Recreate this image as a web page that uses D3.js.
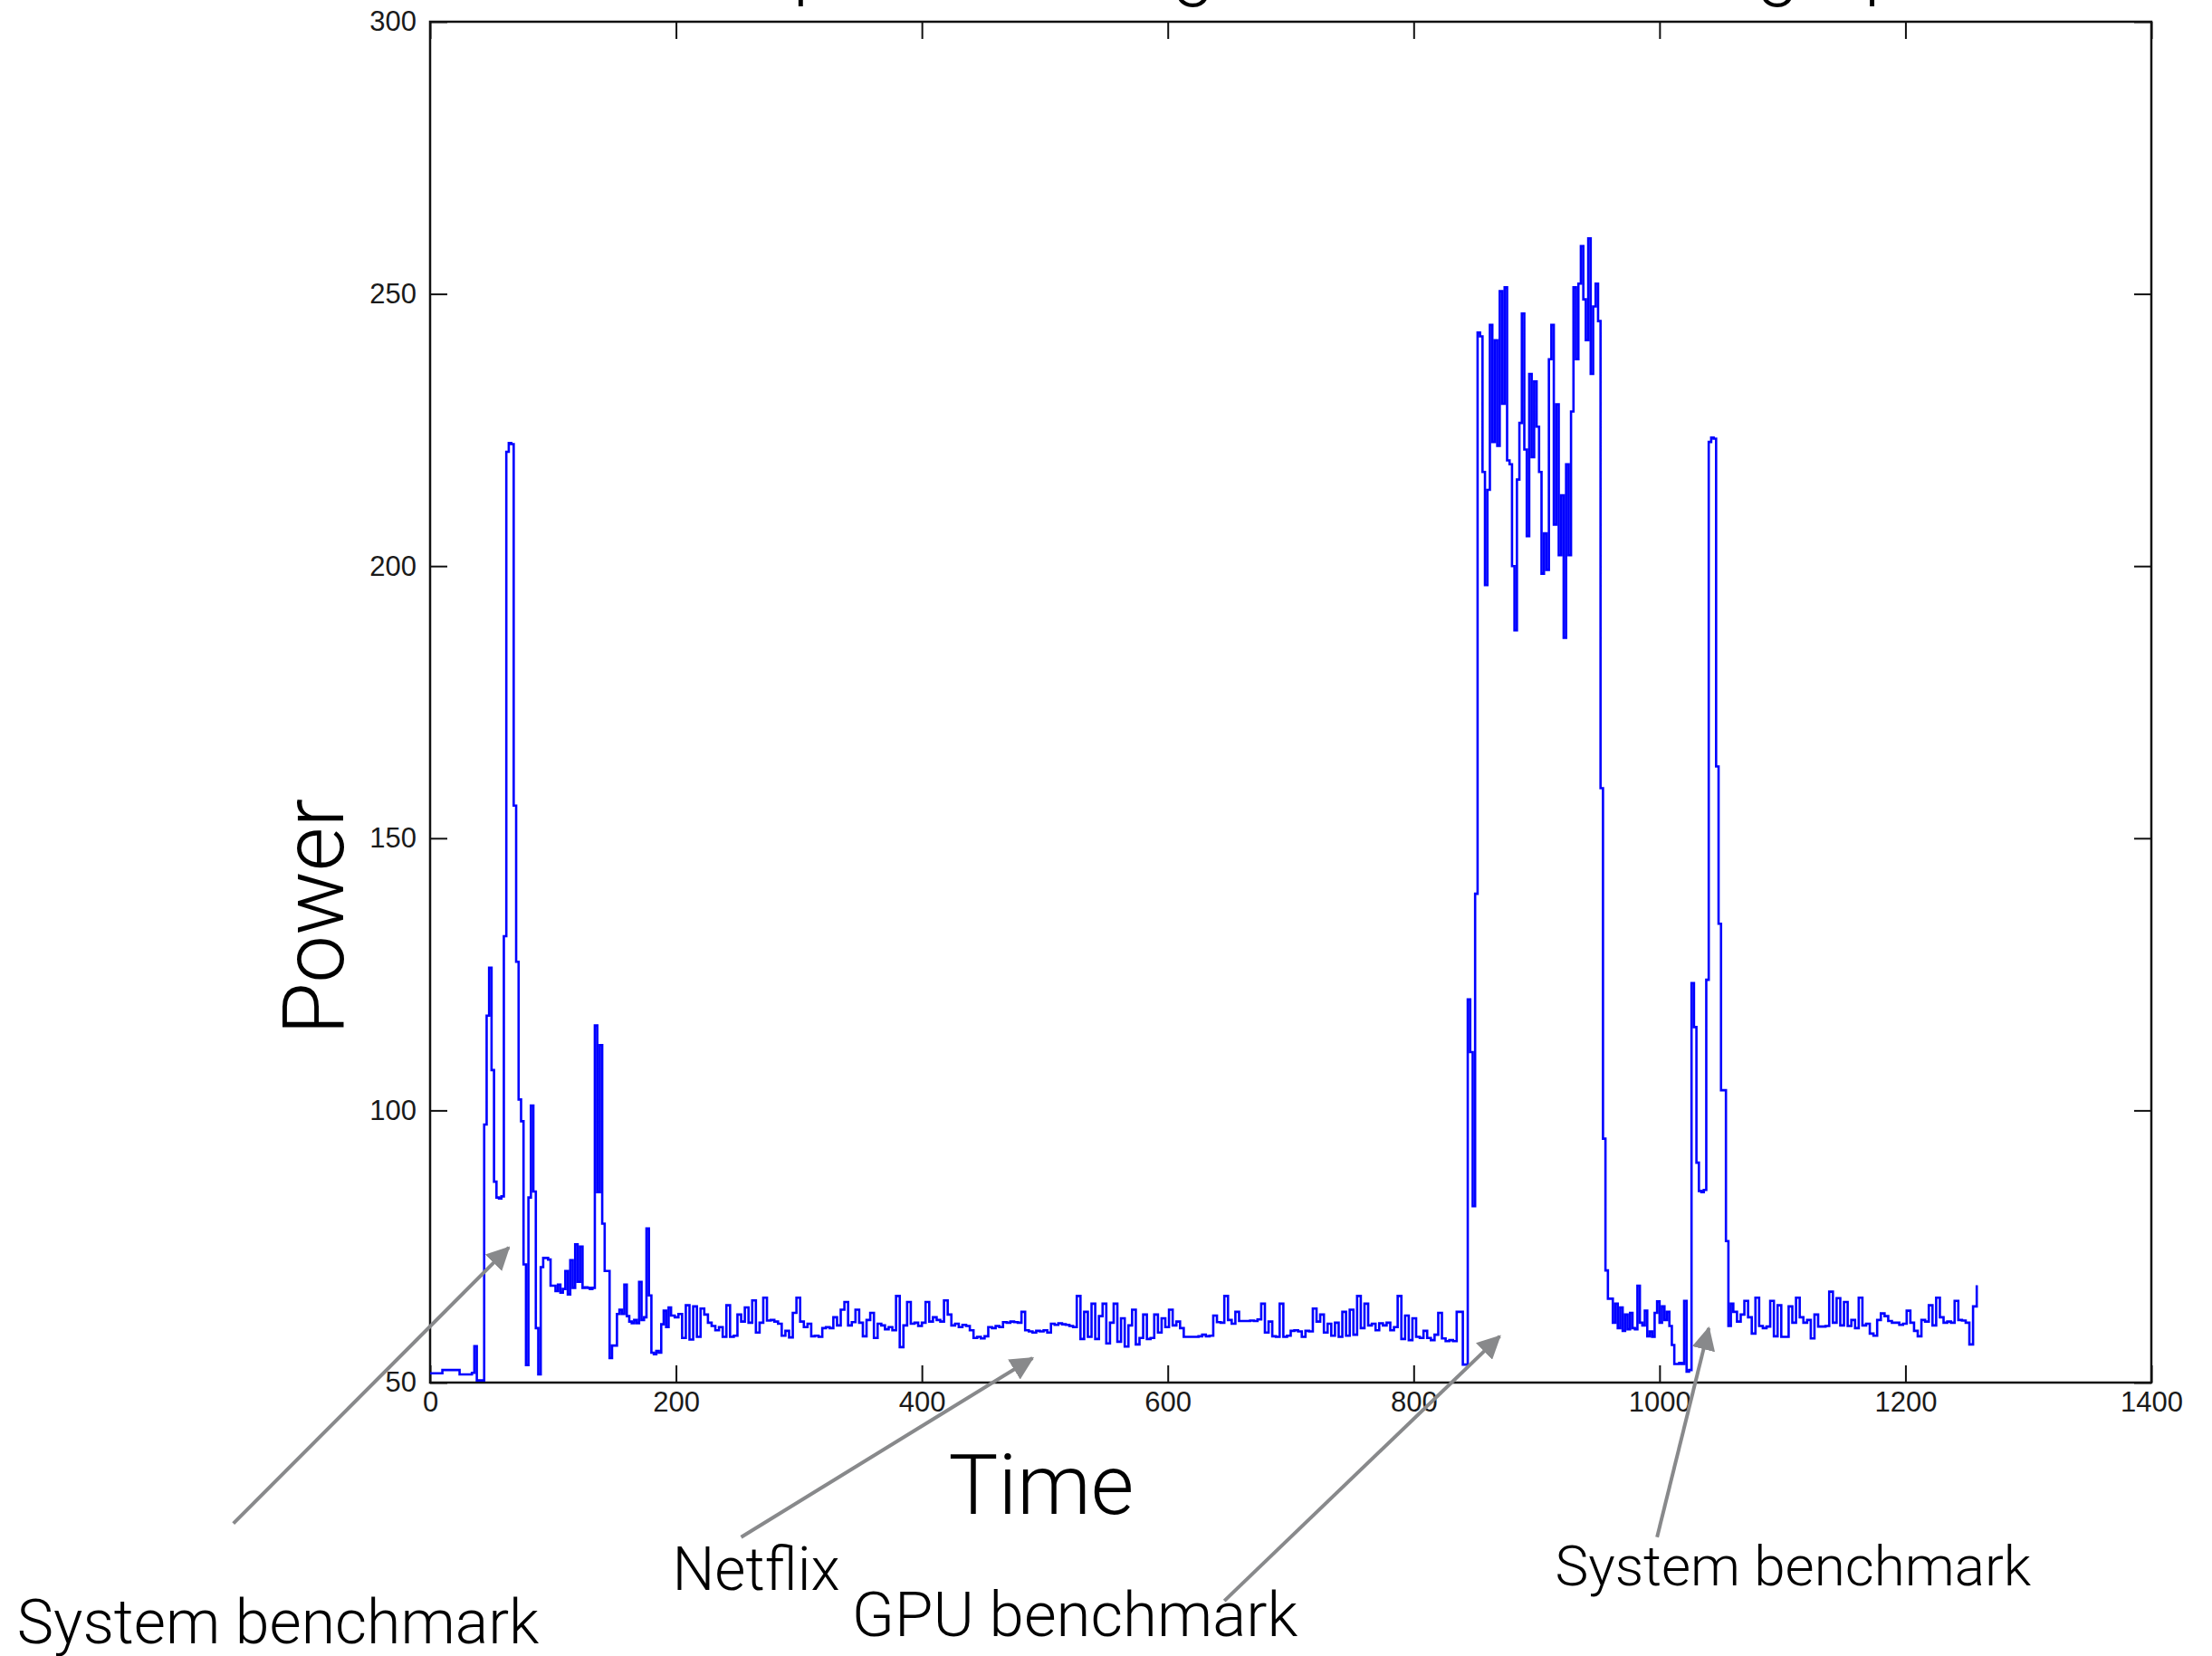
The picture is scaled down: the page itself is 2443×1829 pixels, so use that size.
<!DOCTYPE html>
<html>
<head>
<meta charset="utf-8">
<script src="https://cdnjs.cloudflare.com/ajax/libs/d3/7.8.5/d3.min.js"></script>
<style>
    body { margin: 0; background: #fff; }
    .tick text { font-family: "Liberation Sans", Arial, sans-serif; fill: #1a1a1a; }
    .tick line { stroke: #111; stroke-width: 2; }
    .label { font-family: "Helvetica Neue", Roboto, "Open Sans", sans-serif; font-weight: 300; fill: #000; }
</style>
</head>
<body>
<div id="chart"></div>
<script>
// power samples, each block has a start time and a sample step
var powerA = [ // t 0..194, every 2
    51.7, 51.7, 51.7, 51.7, 51.7, 52.3, 52.3, 52.3, 52.3, 52.3,
    52.3, 52.3, 51.5, 51.5, 51.5, 51.5, 51.5, 51.8, 56.7, 50.4,
    50.4, 50.4, 97.4, 117.4, 126.2, 107.4, 86.9, 84.0, 83.8, 84.2,
    132, 221, 222.6, 222.4, 156, 127.3, 102, 98, 71.7, 53.2,
    84, 100.9, 85.1, 60, 51.5, 71.2, 72.9, 72.9, 72.6, 67.8,
    67.8, 66.8, 68, 66.5, 67.2, 70.5, 66.2, 72.5, 67.4, 75.4,
    68.5, 75, 67.4, 67.5, 67.4, 67.2, 67.4, 115.6, 85, 112,
    79.2, 70.5, 70.5, 54.5, 56.8, 56.8, 62.6, 63.4, 62.6, 68,
    62.2, 61.2, 60.9, 61.5, 60.9, 68.5, 61.5, 62.0, 78.3, 66.0,
    55.5, 55.2, 55.8, 55.5, 60.7, 63.2, 60.2, 63.8
];
var powerB = [ // t 196..517, every 3
    62.3, 62.0, 62.6, 58.2, 64.2, 57.9, 64.0, 58.4, 63.6, 62.5,
    61.0, 60.4, 59.6, 60.2, 58.4, 64.2, 58.4, 58.6, 62.5, 61.2,
    63.8, 61.0, 65.1, 59.2, 61.0, 65.6, 61.4, 61.5, 61.2, 60.8,
    58.6, 59.5, 58.3, 62.8, 65.6, 61.2, 60.2, 60.8, 58.5, 58.6,
    58.4, 60.0, 60.2, 60.0, 62.0, 60.5, 63.4, 64.8, 60.5, 61.1,
    63.4, 61.0, 58.5, 61.5, 62.8, 58.2, 60.8, 60.5, 59.8, 60.2,
    59.6, 65.9, 56.5, 60.5, 64.8, 60.8, 61.0, 60.4, 61.0, 64.8,
    61.2, 62.0, 61.5, 61.2, 65.1, 62.5, 60.5, 60.8, 60.2, 60.6,
    60.4, 59.6, 58.2, 58.4, 58.1, 58.5, 60.2, 60.0, 60.4, 60.2,
    61.1, 61.0, 61.2, 61.1, 61.0, 63.0, 59.6, 59.4, 59.2, 59.5,
    59.4, 59.6, 59.2, 60.8, 60.6, 60.9, 60.7, 60.6
];
var powerC = [ // t 520..835, every 3
    60.4, 60.2, 65.9, 58.0, 63.0, 58.4, 64.5, 58.0, 62.2, 64.5,
    57.2, 61.0, 64.5, 57.5, 61.8, 56.6, 60.5, 63.4, 57.0, 58.2,
    62.5, 58.0, 58.2, 62.5, 59.2, 61.8, 60.2, 63.4, 60.5, 61.2,
    60.0, 58.4, 58.4, 58.4, 58.4, 58.5, 58.8, 58.5, 58.6, 62.3,
    61.1, 61.0, 65.9, 61.5, 60.8, 63.0, 61.3, 61.3, 61.3, 61.4,
    61.3, 61.6, 64.5, 59.2, 61.2, 58.5, 58.4, 64.5, 58.4, 58.6,
    59.5, 59.6, 59.4, 58.4, 59.5, 59.4, 63.6, 61.2, 62.5, 59.2,
    60.8, 58.6, 61.0, 58.4, 63.0, 58.6, 63.4, 58.8, 65.9, 60.0,
    64.5, 60.5, 60.8, 59.6, 60.9, 60.5, 61.0, 59.6, 60.2, 65.9,
    58.0, 62.3, 57.8, 61.8, 58.4, 58.2, 59.5, 58.2, 57.8, 58.8,
    62.8, 58.1, 57.6, 57.8, 57.6, 63.0
];
var powerD = [ // t 838..958, every 2 (GPU benchmark)
    63.0, 53.3, 53.3, 120.4, 110.7, 82.4, 139.8, 242.9, 242.2, 217.3,
    196.5, 214.0, 244.3, 222.8, 241.5, 222.1, 250.5, 229.8, 251.2, 219.4,
    218.7, 200.0, 188.2, 215.9, 226.3, 246.4, 221.4, 205.5, 235.3, 220.0,
    233.9, 225.6, 217.3, 198.6, 206.0, 199.3, 238.0, 244.3, 207.6, 229.7,
    202.0, 213.0, 186.8, 218.7, 202.0, 228.4, 251.2, 238.0, 251.9, 258.8,
    249.0, 241.5, 260.2, 235.3, 247.7, 251.9, 245.0, 159.2, 94.8, 70.6,
    65.4
];
var powerE = [ // t 960..1058, every 2
    65.4, 61.0, 64.5, 60.0, 63.8, 59.5, 62.5, 59.8, 62.8, 60.0,
    59.8, 67.8, 61.0, 60.5, 63.2, 58.5, 59.4, 58.4, 62.8, 64.9,
    61.0, 64.0, 61.5, 63.0, 60.4, 56.9, 53.4, 53.4, 53.6, 53.4,
    65.0, 52.0, 52.3, 123.4, 115.3, 90.4, 85.2, 85.0, 85.4, 124.0,
    222.8, 223.6, 223.4, 163.2, 134.3, 103.7, 103.7, 76.0, 60.4, 64.5
];
var powerF = [ // t 1060..1258, every 3
    63.0, 61.2, 62.5, 65.0, 62.0, 59.0, 65.6, 60.4, 60.0, 60.3,
    65.0, 58.5, 64.2, 58.4, 58.4, 64.0, 61.0, 65.6, 62.0, 61.0,
    61.5, 58.1, 62.5, 60.3, 60.3, 60.4, 66.7, 61.0, 65.5, 60.5,
    64.8, 60.4, 61.5, 60.0, 65.6, 60.5, 60.8, 59.0, 58.6, 61.5,
    62.7, 62.2, 61.3, 61.0, 61.0, 60.6, 60.8, 63.2, 61.0, 59.5,
    58.5, 61.5, 61.2, 64.2, 60.5, 65.6, 62.0, 61.0, 61.2, 61.0,
    65.0, 61.5, 61.4, 61.0, 57.0, 64.0, 67.9
];
var blocks = [
    { start: 0, step: 2, values: powerA },
    { start: 196, step: 3, values: powerB },
    { start: 520, step: 3, values: powerC },
    { start: 838, step: 2, values: powerD },
    { start: 960, step: 2, values: powerE },
    { start: 1060, step: 3, values: powerF }
];

var xTicks = [0, 200, 400, 600, 800, 1000, 1200, 1400];
var yTicks = [50, 100, 150, 200, 250, 300];

// notes under the plot, in data units: text spot and arrow from / to
var notes = [
    { text: "System benchmark", size: 68, at: [-336, 2.1], from: [-160, 24.1], to: [64, 74.8] },
    { text: "Netflix", size: 66, at: [197, 11.9], from: [253, 21.6], to: [490, 54.5] },
    { text: "GPU benchmark", size: 69, at: [343, 3.4], from: [646, 9.9], to: [870, 58.5] },
    { text: "System benchmark", size: 62, at: [915, 12.7], from: [998, 21.6], to: [1040, 60.0] }
];

var W = 2443, H = 1829;
var svg = d3.select("#chart").append("svg")
    .attr("width", W).attr("height", H)
    .style("display", "block").style("background", "#fff");

var x = d3.scaleLinear().domain([0, 1400]).range([475, 2376]);
var y = d3.scaleLinear().domain([50, 300]).range([1527, 24]);

var points = [];
blocks.forEach(function (b) {
    b.values.forEach(function (v, i) {
        points.push({ t: b.start + i * b.step, v: v });
    });
});

// title, mostly cut off by the top edge
svg.append("text").attr("class", "label")
    .attr("x", (x(0) + x(1400)) / 2).attr("y", -10)
    .attr("text-anchor", "middle").style("font-size", "84px")
    .text("Computer wattage with each test graph");

// ticks on all four sides, pointing inward
svg.append("g").attr("transform", "translate(0," + y(50) + ")")
    .call(d3.axisBottom(x).tickValues(xTicks).tickSize(-19).tickPadding(10).tickFormat(d3.format("d")));
svg.append("g").attr("transform", "translate(0," + y(300) + ")")
    .call(d3.axisTop(x).tickValues(xTicks).tickSize(-19).tickFormat(""));
svg.append("g").attr("transform", "translate(" + x(0) + ",0)")
    .call(d3.axisLeft(y).tickValues(yTicks).tickSize(-19).tickPadding(15).tickFormat(d3.format("d")));
svg.append("g").attr("transform", "translate(" + x(1400) + ",0)")
    .call(d3.axisRight(y).tickValues(yTicks).tickSize(-19).tickFormat(""));
svg.selectAll(".domain").remove();
svg.selectAll(".tick text").style("font-size", "31px");

svg.append("rect")
    .attr("x", x(0)).attr("y", y(300))
    .attr("width", x(1400) - x(0)).attr("height", y(50) - y(300))
    .attr("fill", "none").attr("stroke", "#111").attr("stroke-width", 2.5);

var line = d3.line()
    .x(function (d) { return x(d.t); })
    .y(function (d) { return y(d.v); })
    .curve(d3.curveStepAfter);

svg.append("path")
    .datum(points)
    .attr("d", line)
    .attr("fill", "none")
    .attr("stroke", "#0000ff")
    .attr("stroke-width", 2.6)
    .attr("stroke-linejoin", "miter");

// axis titles
svg.append("text").attr("class", "label")
    .attr("transform", "translate(379," + ((y(50) + y(300)) / 2 + 237) + ") rotate(-90)")
    .attr("text-anchor", "middle").style("font-size", "94px")
    .text("Power");
svg.append("text").attr("class", "label")
    .attr("x", 1150).attr("y", 1672)
    .attr("text-anchor", "middle").style("font-size", "92px")
    .text("Time");

// arrows
var gray = "#88898b";
svg.append("defs").append("marker")
    .attr("id", "head")
    .attr("markerUnits", "userSpaceOnUse")
    .attr("viewBox", "0 0 26 26")
    .attr("refX", 24).attr("refY", 13)
    .attr("markerWidth", 26).attr("markerHeight", 26)
    .attr("orient", "auto")
    .append("path").attr("d", "M0,0L26,13L0,26Z").attr("fill", gray);

svg.selectAll(".arrow").data(notes).enter().append("line")
    .attr("class", "arrow")
    .attr("x1", function (d) { return x(d.from[0]); })
    .attr("y1", function (d) { return y(d.from[1]); })
    .attr("x2", function (d) { return x(d.to[0]); })
    .attr("y2", function (d) { return y(d.to[1]); })
    .attr("stroke", gray).attr("stroke-width", 4)
    .attr("marker-end", "url(#head)");

svg.selectAll(".note").data(notes).enter().append("text")
    .attr("class", "label note")
    .attr("x", function (d) { return x(d.at[0]); })
    .attr("y", function (d) { return y(d.at[1]); })
    .style("font-size", function (d) { return d.size + "px"; })
    .text(function (d) { return d.text; });
</script>
</body>
</html>
